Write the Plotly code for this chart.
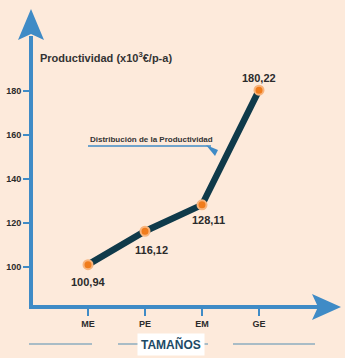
import plotly.graph_objects as go

categories = ["ME", "PE", "EM", "GE"]
productividad = [100.94, 116.12, 128.11, 180.22]
y_ticks = [100, 120, 140, 160, 180]

W, H = 345, 358
BG = "#fdeadb"
BLUE = "#3f8bc6"
LINE = "#0f3a4a"
ORANGE = "#f07c1c"

def px(x):
    return x / W

def py(y):
    return 1 - y / H

x_idx = list(range(len(categories)))

fig = go.Figure()
fig.add_trace(go.Scatter(
    x=x_idx, y=productividad, mode="lines+markers",
    line=dict(color=LINE, width=6.5),
    marker=dict(color=ORANGE, size=9, line=dict(color="#f8b47c", width=2)),
    hoverinfo="skip", showlegend=False,
))

label_shift = [(0, -17), (6, -19), (6, -15), (0, 12)]
for i, v in enumerate(productividad):
    fig.add_annotation(
        x=i, y=v, text=f"{v:.2f}".replace(".", ","), showarrow=False,
        xshift=label_shift[i][0], yshift=label_shift[i][1],
        font=dict(family="Liberation Sans", size=11, color="#2b2b2b", weight="bold"),
    )

shapes = []
# vertical axis
shapes.append(dict(type="line", xref="paper", yref="paper", x0=px(31), x1=px(31),
                   y0=py(309), y1=py(36), line=dict(color=BLUE, width=4)))
shapes.append(dict(type="path", xref="paper", yref="paper",
                   path=f"M {px(18)} {py(40)} L {px(31)} {py(9)} L {px(44)} {py(40)} L {px(31)} {py(34)} Z",
                   fillcolor=BLUE, line=dict(width=0)))
# horizontal axis
shapes.append(dict(type="line", xref="paper", yref="paper", x0=px(29), x1=px(318),
                   y0=py(307), y1=py(307), line=dict(color=BLUE, width=4)))
shapes.append(dict(type="path", xref="paper", yref="paper",
                   path=f"M {px(312)} {py(294)} L {px(341)} {py(307)} L {px(312)} {py(320)} L {px(318)} {py(307)} Z",
                   fillcolor=BLUE, line=dict(width=0)))
# distribution arrow
shapes.append(dict(type="line", xref="paper", yref="paper", x0=px(88), x1=px(211),
                   y0=py(146), y1=py(146), line=dict(color=BLUE, width=1.5)))
shapes.append(dict(type="path", xref="paper", yref="paper",
                   path=f"M {px(206)} {py(145)} L {px(218)} {py(150)} L {px(215)} {py(156)} Z",
                   fillcolor=BLUE, line=dict(width=0)))
# bottom decorative lines
for x0, x1 in [(29, 92), (118, 140), (203, 208), (233, 315)]:
    shapes.append(dict(type="line", xref="paper", yref="paper", x0=px(x0), x1=px(x1),
                       y0=py(344), y1=py(344), line=dict(color="#a9bcc6", width=2)))

fig.add_annotation(
    xref="paper", yref="paper", x=px(38), y=py(57), xanchor="left", yanchor="middle",
    text="Productividad (x10<sup>3</sup>€/p-a)", showarrow=False,
    font=dict(family="Liberation Sans", size=11, color="#333333", weight="bold"),
)
fig.add_annotation(
    xref="paper", yref="paper", x=px(88), y=py(139), xanchor="left", yanchor="middle",
    text="Distribución de la Productividad", showarrow=False,
    font=dict(family="Liberation Sans", size=8, color="#333333", weight="bold"),
)
fig.add_annotation(
    xref="paper", yref="paper", x=px(171), y=py(344), xanchor="center", yanchor="middle",
    text="TAMAÑOS", showarrow=False, bgcolor="#ffffff", borderpad=3,
    font=dict(family="Liberation Sans", size=12, color="#1c4a66", weight="bold"),
)

fig.update_layout(
    width=W, height=H, margin=dict(l=0, r=0, t=0, b=0),
    paper_bgcolor=BG, plot_bgcolor=BG, shapes=shapes,
    xaxis=dict(
        range=[-88 / 57, (W - 88) / 57], tickvals=x_idx, ticktext=categories,
        showgrid=False, zeroline=False, showline=False,
        anchor="free", position=py(307), ticks="outside", ticklen=8,
        tickwidth=2, tickcolor=BLUE,
        tickfont=dict(family="Liberation Sans", size=9, color="#2b2b2b", weight="bold"),
    ),
    yaxis=dict(
        range=[100 - (H - 266.7) / 2.2, 100 + 266.7 / 2.2], tickvals=y_ticks,
        ticktext=[str(t) for t in y_ticks],
        showgrid=False, zeroline=False, showline=False,
        anchor="free", position=px(31), ticks="outside", ticklen=8,
        tickwidth=2, tickcolor=BLUE,
        tickfont=dict(family="Liberation Sans", size=9, color="#2b2b2b", weight="bold"),
    ),
)

fig.write_html("out.html")
